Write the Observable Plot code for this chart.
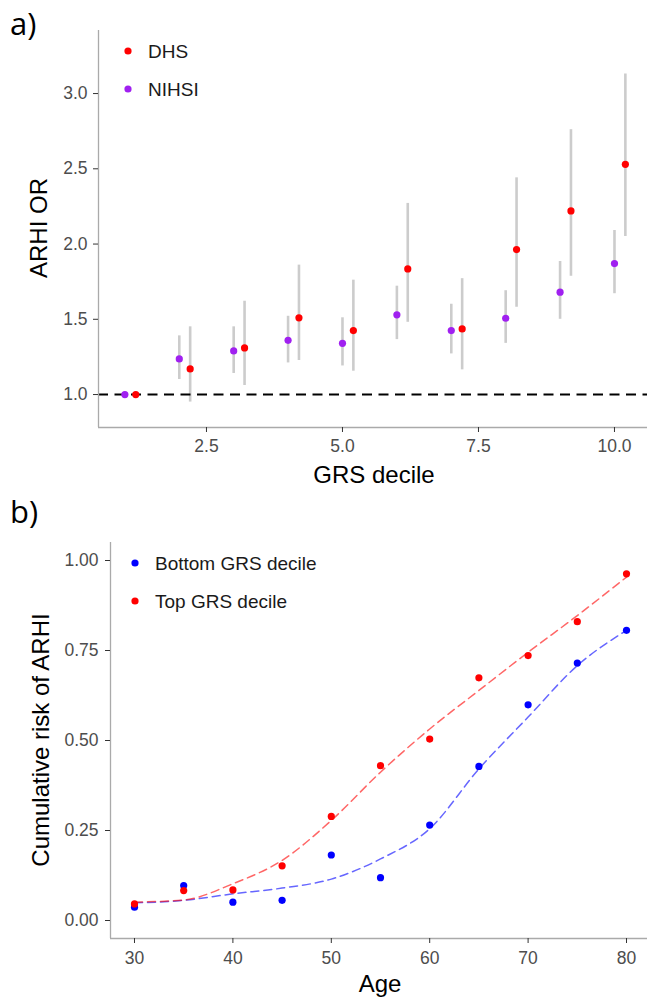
<!DOCTYPE html>
<html><head><meta charset="utf-8">
<script src="https://cdn.jsdelivr.net/npm/d3@7"></script>
<script src="https://cdn.jsdelivr.net/npm/@observablehq/plot@0.6"></script>
<style>
body{margin:0;background:#fff;}
#wrap{position:relative;width:647px;height:1000px;overflow:hidden;font-family:"Liberation Sans",Arial,sans-serif;background:#fff;}
#pa{position:absolute;left:0;top:0;}
#pb{position:absolute;left:0;top:490px;}
#ov{position:absolute;left:0;top:0;pointer-events:none;}
</style></head><body>
<div id="wrap"><div id="pa"></div><div id="pb"></div><svg id="ov" width="647" height="1000"></svg></div>
<script>
// ---- Panel a data ----
const deciles   = [1, 2, 3, 4, 5, 6, 7, 8, 9, 10];
const dhsOR     = [1.00, 1.17, 1.31, 1.51, 1.425, 1.835, 1.436, 1.963, 2.22, 2.53];
const dhsLow    = [null, 0.95, 1.06, 1.226, 1.155, 1.48, 1.164, 1.58, 1.786, 2.05];
const dhsHigh   = [null, 1.45, 1.62, 1.86, 1.76, 2.27, 1.77, 2.44, 2.76, 3.13];
const nihsiOR   = [1.00, 1.237, 1.29, 1.36, 1.34, 1.53, 1.425, 1.507, 1.68, 1.87];
const nihsiLow  = [null, 1.10, 1.14, 1.21, 1.19, 1.365, 1.27, 1.34, 1.50, 1.67];
const nihsiHigh = [null, 1.39, 1.45, 1.52, 1.51, 1.72, 1.60, 1.69, 1.884, 2.09];
const studies   = ["DHS", "NIHSI"];
const orTicks     = [1.0, 1.5, 2.0, 2.5, 3.0];
const decileTicks = [2.5, 5.0, 7.5, 10.0];

// ---- Panel b data ----
const ages         = [30, 35, 40, 45, 50, 55, 60, 65, 70, 75, 80];
const topRisk      = [0.046, 0.083, 0.085, 0.152, 0.289, 0.430, 0.504, 0.674, 0.736, 0.830, 0.963];
const bottomRisk   = [0.037, 0.097, 0.051, 0.056, 0.182, 0.119, 0.265, 0.428, 0.599, 0.715, 0.806];
const topSmooth    = [0.051, 0.057, 0.102, 0.167, 0.278, 0.412, 0.532, 0.639, 0.745, 0.847, 0.954];
const bottomSmooth = [0.049, 0.056, 0.074, 0.090, 0.115, 0.171, 0.255, 0.421, 0.565, 0.708, 0.806];
const groups       = ["Bottom GRS decile", "Top GRS decile"];
const riskTicks = [0, 0.25, 0.5, 0.75, 1.0];
const ageTicks  = [30, 40, 50, 60, 70, 80];

const FONT = '"Liberation Sans", Arial, sans-serif';
const dodge = 0.2;

// ---- Panel a ----
const rowsA = deciles.flatMap((d, i) => [
  {study: "NIHSI", x: d, or: nihsiOR[i], lo: nihsiLow[i], hi: nihsiHigh[i]},
  {study: "DHS", x: d + dodge, or: dhsOR[i], lo: dhsLow[i], hi: dhsHigh[i]}
]);
const xDomA = [0.515, 10.607], yDomA = [0.781, 3.419];
const axisStyle = {fontSize: 17.5, fill: "#4d4d4d", stroke: "#333333", tickSize: 5, label: null};

const plotA = Plot.plot({
  width: 647, height: 490,
  marginTop: 30, marginBottom: 63, marginLeft: 98, marginRight: 0,
  x: {domain: xDomA},
  y: {domain: yDomA},
  color: {domain: studies, range: ["#ff0000", "#a020f0"]},
  style: {fontFamily: FONT, background: "white"},
  marks: [
    Plot.ruleX(rowsA.filter(d => d.lo != null), {x: "x", y1: "lo", y2: "hi", stroke: "#cccccc", strokeWidth: 2.6}),
    Plot.ruleY([1], {stroke: "black", strokeWidth: 2, strokeDasharray: "10,6.5"}),
    Plot.dot(rowsA, {x: "x", y: "or", fill: "study", r: 3.6}),
    Plot.ruleX([xDomA[0]], {stroke: "#aaaaaa", strokeWidth: 1.3}),
    Plot.ruleY([yDomA[0]], {stroke: "#aaaaaa", strokeWidth: 1.3}),
    Plot.axisY(orTicks, {...axisStyle, tickPadding: 6, tickFormat: d3.format(".1f")}),
    Plot.axisX(decileTicks, {...axisStyle, tickPadding: 7, tickFormat: d3.format(".1f")})
  ]
});
document.getElementById("pa").appendChild(plotA);

// ---- Panel b ----
const pts = ages.flatMap((a, i) => [
  {group: groups[0], age: a, risk: bottomRisk[i], fit: bottomSmooth[i]},
  {group: groups[1], age: a, risk: topRisk[i], fit: topSmooth[i]}
]);
const xDomB = [27.561, 82.134], yDomB = [-0.05, 1.05];
const plotB = Plot.plot({
  width: 647, height: 510,
  marginTop: 52, marginBottom: 62, marginLeft: 110, marginRight: 0,
  x: {domain: xDomB},
  y: {domain: yDomB},
  color: {domain: groups, range: ["#0000ff", "#ff0000"]},
  style: {fontFamily: FONT, background: "white"},
  marks: [
    Plot.line(pts, {x: "age", y: "fit", z: "group", stroke: "group", strokeOpacity: 0.6, strokeWidth: 1.5, strokeDasharray: "8,5", curve: "monotone-x"}),
    Plot.dot(pts, {x: "age", y: "risk", fill: "group", r: 3.6}),
    Plot.ruleX([xDomB[0]], {stroke: "#aaaaaa", strokeWidth: 1.3}),
    Plot.ruleY([yDomB[0]], {stroke: "#aaaaaa", strokeWidth: 1.3}),
    Plot.axisY(riskTicks, {...axisStyle, tickPadding: 7, tickFormat: d3.format(".2f")}),
    Plot.axisX(ageTicks, {...axisStyle, tickPadding: 8, tickFormat: d3.format("d")})
  ]
});
document.getElementById("pb").appendChild(plotB);

// ---- Overlay: panel labels, axis titles, legends ----
const ov = d3.select("#ov");
function txt(x, y, s, opts = {}) {
  const t = ov.append("text").attr("x", x).attr("y", y).text(s)
    .attr("font-family", opts.family || FONT)
    .attr("font-size", opts.size || 24)
    .attr("fill", opts.fill || "black")
    .attr("text-anchor", opts.anchor || "start");
  if (opts.rotate) t.attr("transform", `rotate(-90 ${x} ${y})`).attr("dominant-baseline", "central");
  return t;
}
txt(10, 35, "a)", {family: '"Open Sans", sans-serif', size: 31});
txt(10, 523, "b)", {family: '"Open Sans", sans-serif', size: 31});
txt(38, 228, "ARHI OR", {anchor: "middle", rotate: true});
txt(374, 483, "GRS decile", {anchor: "middle"});
txt(40, 740, "Cumulative risk of ARHI", {anchor: "middle", rotate: true});
txt(380, 992, "Age", {anchor: "middle"});

const legA = [{label: "DHS", color: "#ff0000", y: 51}, {label: "NIHSI", color: "#a020f0", y: 89}];
legA.forEach(d => {
  ov.append("circle").attr("cx", 128).attr("cy", d.y).attr("r", 3.6).attr("fill", d.color);
  txt(148, d.y + 6.8, d.label, {size: 19, fill: "#1a1a1a"});
});
const legB = [{label: groups[0], color: "#0000ff", y: 563}, {label: groups[1], color: "#ff0000", y: 601}];
legB.forEach(d => {
  ov.append("circle").attr("cx", 135).attr("cy", d.y).attr("r", 3.6).attr("fill", d.color);
  txt(155, d.y + 6.8, d.label, {size: 19, fill: "#1a1a1a"});
});
</script>
</body></html>
